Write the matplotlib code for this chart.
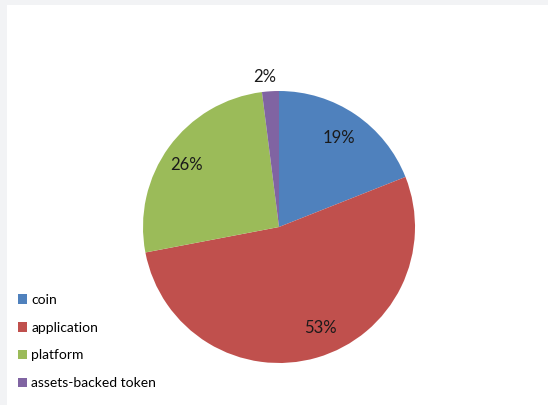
import matplotlib.pyplot as plt
import numpy as np
from matplotlib.patches import Rectangle

categories = ['coin', 'application', 'platform', 'assets-backed token']
shares = [19, 53, 26, 2]
colors = ['#4F81BD', '#C0504D', '#9BBB59', '#8064A2']
# where each percent label sits: fraction of radius, and degrees off the wedge middle
label_dist = [0.79, 0.80, 0.82, 1.11]
label_shift = [0, 6, 2, 1.7]

plt.rcParams['font.family'] = ['Lato', 'DejaVu Sans']

fig = plt.figure(figsize=(5.48, 4.05), dpi=100)
fig.patch.set_facecolor('#f2f3f5')
# white chart area inside the grey frame
bg = fig.add_axes([7 / 548, 0, 1 - 7 / 548, (405 - 5) / 405], zorder=0)
bg.set_facecolor('white')
bg.set_xticks([])
bg.set_yticks([])
for s in bg.spines.values():
    s.set_visible(False)

ax = fig.add_axes([143 / 548, 42 / 405, 272 / 548, 272 / 405], zorder=1)
ax.set_facecolor('none')
wedges, _ = ax.pie(shares, colors=colors, startangle=90, counterclock=False,
                   wedgeprops=dict(linewidth=0))
ax.set_xlim(-1, 1)
ax.set_ylim(-1, 1)
ax.set_aspect('equal')
ax.axis('off')

for w, val, d, sh in zip(wedges, shares, label_dist, label_shift):
    mid = np.deg2rad((w.theta1 + w.theta2) / 2 + sh)
    ax.text(d * np.cos(mid), d * np.sin(mid), f'{val}%', ha='center', va='center',
            fontsize=12, color='#1a1a1a')

handles = [Rectangle((0, 0), 1, 1, facecolor=c, edgecolor='none') for c in colors]
leg = fig.legend(handles, categories, loc='lower left', bbox_to_anchor=(12 / 548, 10 / 405),
                 frameon=False, fontsize=10, handlelength=0.7, handleheight=0.7,
                 handletextpad=0.3, labelspacing=1.15, borderaxespad=0)
leg.set_zorder(2)

fig.savefig('out.png', dpi=100)
